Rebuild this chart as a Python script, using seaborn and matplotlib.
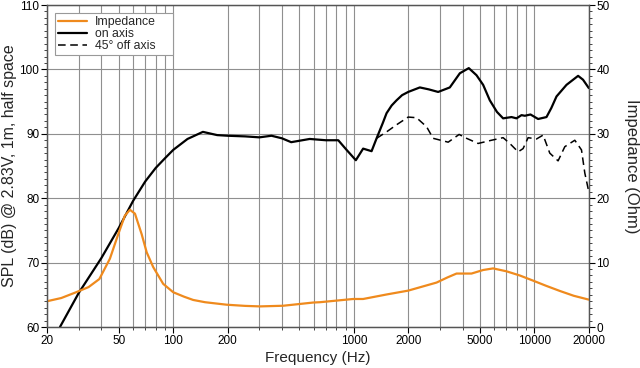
import numpy as np
import pandas as pd
import matplotlib
matplotlib.use("Agg")
import matplotlib.pyplot as plt
from matplotlib.ticker import FixedLocator, NullFormatter, MultipleLocator
from matplotlib.lines import Line2D
import seaborn as sns

# --- data ---
on_axis_freq = [23.6, 30, 40, 50, 60, 70, 80, 90, 100, 120, 146, 175, 200, 250, 300,
                350, 400, 450, 570, 700, 820, 912, 1026, 1126, 1254, 1337, 1448, 1518,
                1620, 1724, 1850, 2000, 2320, 2600, 2930, 3400, 3864, 4330, 4777, 5200,
                5662, 6200, 6708, 7467, 7960, 8482, 8846, 9510, 10480, 11664, 12400,
                13250, 15050, 17450, 18580, 20000]
on_axis_spl = [60.0, 65.3, 70.7, 75.4, 79.6, 82.6, 84.7, 86.2, 87.5, 89.2, 90.3, 89.8,
               89.7, 89.6, 89.45, 89.7, 89.3, 88.7, 89.2, 89.0, 89.0, 87.5, 85.9, 87.7,
               87.3, 89.3, 91.7, 93.2, 94.4, 95.2, 96.0, 96.5, 97.2, 96.9, 96.5, 97.2,
               99.4, 100.2, 99.1, 97.6, 95.2, 93.4, 92.4, 92.6, 92.4, 92.9, 92.8, 93.0,
               92.3, 92.6, 94.0, 95.8, 97.6, 99.0, 98.4, 97.1]

off_axis_freq = [1337, 1518, 1724, 2000, 2224, 2528, 2748, 3330, 3828, 4208, 4877, 5786,
                 6708, 7306, 8122, 8652, 9226, 10270, 11170, 12160, 13520, 14730, 16730,
                 18220, 19010, 20000]
off_axis_spl = [89.3, 90.3, 91.4, 92.6, 92.5, 91.1, 89.3, 88.7, 89.9, 89.3, 88.5, 89.0,
                89.4, 88.5, 87.2, 87.7, 89.4, 89.2, 89.8, 87.0, 85.8, 88.0, 89.0, 87.5,
                83.9, 81.0]

imp_freq = [20, 24, 29, 34, 39, 44.6, 49.6, 54, 57.6, 61.4, 66.9, 71.3, 77.5, 88, 100,
            115, 129, 150, 198, 250, 302, 406, 596, 649, 991, 1126, 1518, 2000, 2871,
            3300, 3704, 4484, 5200, 5906, 7000, 8300, 9832, 11600, 13820, 16500, 20000]
imp_ohm = [4.0, 4.5, 5.4, 6.2, 7.45, 10.6, 14.4, 17.3, 18.2, 17.6, 14.4, 11.6, 9.3, 6.7,
           5.4, 4.7, 4.2, 3.85, 3.46, 3.28, 3.2, 3.3, 3.8, 3.85, 4.35, 4.35, 5.05, 5.65,
           6.9, 7.7, 8.3, 8.3, 8.85, 9.1, 8.65, 8.0, 7.2, 6.4, 5.6, 4.85, 4.25]

x_major = [20, 50, 100, 200, 1000, 2000, 5000, 10000, 20000]

ORANGE = "#ef8a1d"

sns.set_style("ticks")
plt.rcParams["font.family"] = ["Liberation Sans", "DejaVu Sans"]

fig = plt.figure(figsize=(6.4, 3.68), dpi=100)
ax = fig.add_axes([0.0734, 0.1114, 0.8466, 0.875])
ax2 = ax.twinx()

on_df = pd.DataFrame({"f": on_axis_freq, "spl": on_axis_spl})
off_df = pd.DataFrame({"f": off_axis_freq, "spl": off_axis_spl})
imp_df = pd.DataFrame({"f": imp_freq, "z": imp_ohm})

sns.lineplot(data=on_df, x="f", y="spl", color="black", lw=1.6, ax=ax, sort=False)
sns.lineplot(data=off_df, x="f", y="spl", color="black", lw=1.1, ls=(0, (5, 3)),
             ax=ax, sort=False)
sns.lineplot(data=imp_df, x="f", y="z", color=ORANGE, lw=1.6, ax=ax2, sort=False)

for a in (ax, ax2):
    a.set_xscale("log")
    a.set_xlim(20, 20000)

ax.set_ylim(60, 110)
ax2.set_ylim(0, 50)

# grid at every 1-9 decade step
all_x = [m * 10 ** d for d in range(1, 5) for m in range(1, 10) if 20 <= m * 10 ** d <= 20000]
ax.xaxis.set_major_locator(FixedLocator(x_major))
ax.xaxis.set_minor_locator(FixedLocator([v for v in all_x if v not in x_major]))
ax.xaxis.set_minor_formatter(NullFormatter())
ax.set_xticklabels([str(v) for v in x_major])
ax.yaxis.set_major_locator(MultipleLocator(10))
ax.yaxis.set_minor_locator(MultipleLocator(1))
ax2.yaxis.set_major_locator(MultipleLocator(10))
ax2.yaxis.set_minor_locator(MultipleLocator(1))

ax.grid(True, which="both", axis="x", color="#8f8f8f", lw=0.8)
ax.grid(True, which="major", axis="y", color="#8f8f8f", lw=0.8)

for a in (ax, ax2):
    a.tick_params(which="major", length=4, width=0.8, labelsize=8.5, pad=1.5, colors="black")
    a.tick_params(which="minor", length=2, width=0.6)
    for s in a.spines.values():
        s.set_color("#555555")
        s.set_linewidth(0.9)

ax.set_xlabel("Frequency (Hz)", fontsize=11, labelpad=3)
ax.set_ylabel("SPL (dB) @ 2.83V, 1m, half space", fontsize=11.5, labelpad=2)
ax2.set_ylabel("Impedance (Ohm)", fontsize=12, labelpad=21, rotation=270)

handles = [Line2D([], [], color=ORANGE, lw=1.6),
           Line2D([], [], color="black", lw=1.6),
           Line2D([], [], color="black", lw=1.1, ls=(0, (5, 3)))]
leg = ax2.legend(handles, ["Impedance", "on axis", "45° off axis"], loc="upper left",
                 bbox_to_anchor=(0.0148, 0.0, 0.2177, 0.975), mode="expand",
                 fontsize=8.8, frameon=True, fancybox=False,
                 handlelength=2.4, handletextpad=0.6, borderpad=0.25, labelspacing=0.0,
                 borderaxespad=0.0)
leg.get_frame().set_edgecolor("#999999")
leg.get_frame().set_linewidth(0.8)
leg.get_frame().set_alpha(1)

fig.savefig("out.png", dpi=100)
